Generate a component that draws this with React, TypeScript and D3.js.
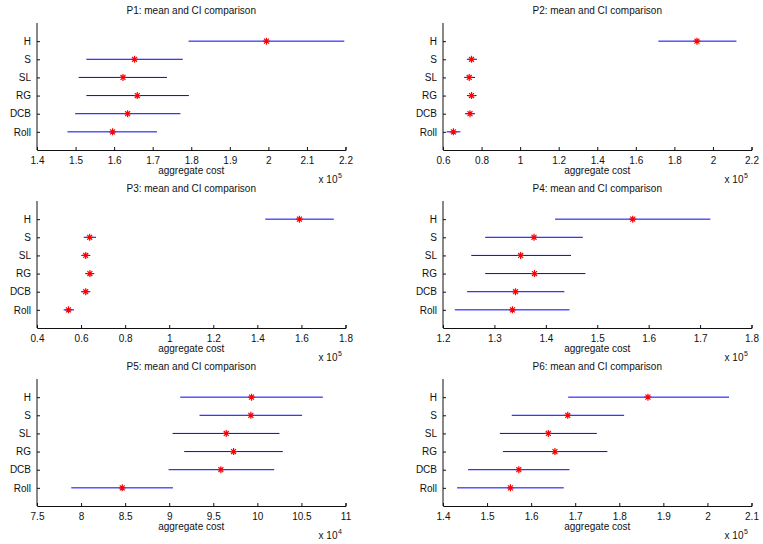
import React, { useEffect, useRef } from 'react';
import * as d3 from 'd3';

// methods, top to bottom
const methods = ['H', 'S', 'SL', 'RG', 'DCB', 'Roll'];

// values (x 10^5, except P5 which is x 10^4)
const p1Mean = [1.995, 1.653, 1.623, 1.660, 1.635, 1.596];
const p1Lo = [1.793, 1.528, 1.508, 1.528, 1.499, 1.479];
const p1Hi = [2.197, 1.778, 1.737, 1.794, 1.772, 1.711];

const p2Mean = [1.917, 0.748, 0.736, 0.748, 0.740, 0.654];
const p2Lo = [1.717, 0.724, 0.710, 0.724, 0.714, 0.619];
const p2Hi = [2.122, 0.776, 0.766, 0.774, 0.766, 0.690];

const p3Mean = [1.591, 0.639, 0.621, 0.640, 0.621, 0.543];
const p3Lo = [1.436, 0.612, 0.601, 0.619, 0.600, 0.521];
const p3Hi = [1.747, 0.668, 0.642, 0.660, 0.642, 0.568];

const p4Mean = [1.569, 1.377, 1.351, 1.378, 1.341, 1.335];
const p4Lo = [1.418, 1.282, 1.255, 1.282, 1.247, 1.223];
const p4Hi = [1.720, 1.472, 1.449, 1.477, 1.436, 1.446];

const p5Mean = [9.934, 9.926, 9.647, 9.730, 9.586, 8.467];
const p5Lo = [9.125, 9.344, 9.038, 9.170, 8.993, 7.889];
const p5Hi = [10.743, 10.508, 10.251, 10.289, 10.191, 9.042];

const p6Mean = [1.865, 1.683, 1.639, 1.654, 1.572, 1.553];
const p6Lo = [1.684, 1.556, 1.529, 1.536, 1.457, 1.432];
const p6Hi = [2.049, 1.811, 1.749, 1.773, 1.687, 1.674];

// x tick labels per panel
const p1Ticks = [1.4, 1.5, 1.6, 1.7, 1.8, 1.9, 2, 2.1, 2.2];
const p2Ticks = [0.6, 0.8, 1, 1.2, 1.4, 1.6, 1.8, 2, 2.2];
const p3Ticks = [0.4, 0.6, 0.8, 1, 1.2, 1.4, 1.6, 1.8];
const p4Ticks = [1.2, 1.3, 1.4, 1.5, 1.6, 1.7, 1.8];
const p5Ticks = [7.5, 8, 8.5, 9, 9.5, 10, 10.5, 11];
const p6Ticks = [1.4, 1.5, 1.6, 1.7, 1.8, 1.9, 2, 2.1];

const panels = [
  { title: 'P1: mean and CI comparison', mean: p1Mean, lo: p1Lo, hi: p1Hi, ticks: p1Ticks, exp: '5' },
  { title: 'P2: mean and CI comparison', mean: p2Mean, lo: p2Lo, hi: p2Hi, ticks: p2Ticks, exp: '5' },
  { title: 'P3: mean and CI comparison', mean: p3Mean, lo: p3Lo, hi: p3Hi, ticks: p3Ticks, exp: '5' },
  { title: 'P4: mean and CI comparison', mean: p4Mean, lo: p4Lo, hi: p4Hi, ticks: p4Ticks, exp: '5' },
  { title: 'P5: mean and CI comparison', mean: p5Mean, lo: p5Lo, hi: p5Hi, ticks: p5Ticks, exp: '4' },
  { title: 'P6: mean and CI comparison', mean: p6Mean, lo: p6Lo, hi: p6Hi, ticks: p6Ticks, exp: '5' },
];

// matlab style '*' marker
const starPath = (r: number) => {
  const p = d3.path();
  const d = r * Math.SQRT1_2;
  p.moveTo(-r, 0); p.lineTo(r, 0);
  p.moveTo(0, -r); p.lineTo(0, r);
  p.moveTo(-d, -d); p.lineTo(d, d);
  p.moveTo(-d, d); p.lineTo(d, -d);
  return p.toString();
};

const App = () => {
  const svgRef = useRef<SVGSVGElement>(null);

  useEffect(() => {
    const width = 763;
    const height = 544;
    const svg = d3.select(svgRef.current)
      .attr('width', width)
      .attr('height', height);
    svg.selectAll('*').remove();

    const font = 'Liberation Sans, Arial, sans-serif';
    const ink = '#111';
    const colX = [37, 443];
    const rowY = [23, 201, 379];
    const pw = 308.5;
    const ph = 127;

    panels.forEach((pan, i) => {
      const left = colX[i % 2];
      const top = rowY[Math.floor(i / 2)];
      const bottom = top + ph;
      const right = left + pw;

      const x = d3.scaleLinear()
        .domain([pan.ticks[0], pan.ticks[pan.ticks.length - 1]])
        .range([left, right]);
      const y = d3.scalePoint<string>()
        .domain(methods)
        .range([top, bottom])
        .padding(1);

      const g = svg.append('g').style('font-family', font);

      // axes (box off: only left and bottom)
      const xAxis = d3.axisBottom(x)
        .tickValues(pan.ticks)
        .tickSize(-3)
        .tickPadding(7)
        .tickFormat(d => String(+(+d).toFixed(2)));
      const gx = g.append('g')
        .attr('transform', `translate(0,${bottom})`)
        .call(xAxis);
      gx.select('.domain').attr('stroke', ink);
      gx.selectAll('.tick line').attr('stroke', ink);
      gx.selectAll('.tick text')
        .attr('fill', ink)
        .style('font-size', '10px')
        .style('font-family', font);

      const yAxis = d3.axisLeft(y)
        .tickSize(-3)
        .tickPadding(6);
      const gy = g.append('g')
        .attr('transform', `translate(${left},0)`)
        .call(yAxis);
      gy.select('.domain').attr('stroke', ink)
        .attr('d', `M0,${top}V${bottom}`);
      gy.selectAll('.tick line').attr('stroke', ink);
      gy.selectAll('.tick text')
        .attr('fill', ink)
        .style('font-size', '10px')
        .style('font-family', font);

      // CI lines
      g.selectAll('line.ci')
        .data(methods)
        .join('line')
        .attr('class', 'ci')
        .attr('x1', (_, k) => x(pan.lo[k]))
        .attr('x2', (_, k) => x(pan.hi[k]))
        .attr('y1', d => y(d)!)
        .attr('y2', d => y(d)!)
        .attr('stroke', '#0000ff')
        .attr('stroke-width', 1);

      // means
      g.selectAll('path.mean')
        .data(methods)
        .join('path')
        .attr('class', 'mean')
        .attr('d', starPath(3.5))
        .attr('transform', (d, k) => `translate(${x(pan.mean[k])},${y(d)})`)
        .attr('fill', 'none')
        .attr('stroke', '#ff0000')
        .attr('stroke-width', 1.2);

      const cx = (left + right) / 2;
      g.append('text')
        .attr('x', cx)
        .attr('y', top - 9)
        .attr('text-anchor', 'middle')
        .style('font-size', '10px')
        .attr('fill', ink)
        .text(pan.title);

      g.append('text')
        .attr('x', cx)
        .attr('y', bottom + 24)
        .attr('text-anchor', 'middle')
        .style('font-size', '10px')
        .attr('fill', ink)
        .text('aggregate cost');

      g.append('text')
        .attr('x', right - 8)
        .attr('y', bottom + 33)
        .attr('text-anchor', 'end')
        .style('font-size', '10px')
        .attr('fill', ink)
        .text('x 10');
      g.append('text')
        .attr('x', right - 7.5)
        .attr('y', bottom + 28)
        .style('font-size', '7px')
        .attr('fill', ink)
        .text(pan.exp);
    });
  }, []);

  return <svg ref={svgRef} style={{ position: 'absolute', left: 0, top: 0, background: '#fff' }}></svg>;
};

export default App;
